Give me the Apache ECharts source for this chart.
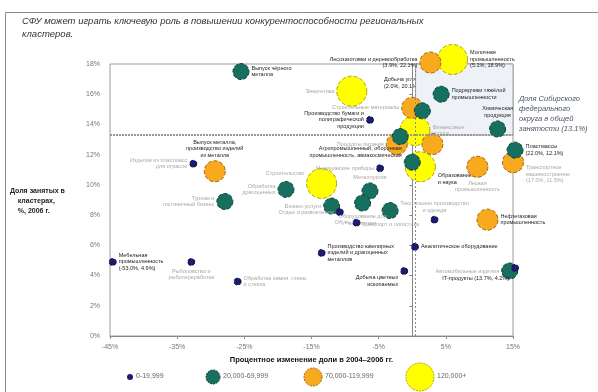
<!DOCTYPE html>
<html>
<head>
<meta charset="utf-8">
<script src="https://cdn.jsdelivr.net/npm/echarts@6/dist/echarts.min.js"></script>
<style>
  html, body { margin: 0; padding: 0; background: #fff; }
  #chart { width: 598px; height: 392px; }
</style>
</head>
<body>
<div id="chart"></div>
<script>
;(function () {

    'use strict';

    // x = % change of share 2004-2006, y = share of employment 2006
    var xTicks = [-45, -35, -25, -15, -5, 5, 15];
    var sfoShare = 13.3;     // horizontal reference (13.1% label)
    var zeroChange = 0.5;    // vertical reference

    // 120,000+
    var yellowPts = [[-9.0, 16.2], [6.0, 18.3], [0.4, 13.6], [1.2, 11.2], [-13.5, 10.1]];
    var yellowNames = ['Энергетика', 'Молочная\nпромышленность\n(5.1%, 18.9%)', 'Финансовые\nуслуги',
        'Образование\nи наука', 'Строительство'];
    var yellowSide = ['left', 'right', 'right', 'bottomRight', 'topLeft'];
    var yellowTone = [0, 1, 0, 1, 0];

    // 70,000-119,999
    var orangePts = [[2.7, 18.1], [0.0, 15.1], [-2.3, 12.7], [3.0, 12.7], [15.0, 11.5],
        [9.7, 11.2], [11.2, 7.7], [-29.4, 10.9]];
    var orangeNames = ['Лесозаготовки и деревообработка\n(3.9%, 22.1%)', 'Строительные материалы',
        'Продукты питания', '', 'Транспортное\nмашиностроение\n(17.0%, 11.5%)',
        'Лесная\nпромышленность', 'Нефтегазовая\nпромышленность',
        'Выпуск металла,\nпроизводство изделий\nиз металла'];
    var orangeSide = ['left', 'left', 'left', 'right', 'bottomRight', 'bottom', 'right', 'top'];
    var orangeTone = [1, 0, 0, 0, 0, 0, 1, 1];

    // 20,000-69,999
    var tealPts = [[-25.5, 17.5], [4.3, 16.0], [1.5, 14.9], [-1.8, 13.2], [12.7, 13.7],
        [15.3, 12.3], [0.0, 11.5], [-18.8, 9.7], [-27.9, 8.9], [-12.0, 8.6],
        [-6.3, 9.6], [-7.4, 8.8], [-3.3, 8.3], [14.5, 4.3]];
    var tealNames = ['Выпуск чёрного\nметалла', 'Подрядчики тяжёлой\nпромышленности', '', '',
        'Химическая\nпродукция', 'Пластмассы\n(22.0%, 12.1%)',
        'Агропромышленный, оборонная\nпромышленность, авиакосмическая',
        'Обработка\nдрагоценных', 'Туризм и\nгостиничный бизнес', 'Бизнес-услуги',
        'Металлургия', 'Оборудование для\nэнергетики', 'Транспорт и логистика',
        'Автомобильные изделия'];
    var tealSide = ['right', 'right', 'right', 'left', 'top', 'right', 'topLeft', 'left', 'left', 'left',
        'top', 'bottom', 'bottom', 'left'];
    var tealTone = [1, 1, 0, 0, 1, 1, 1, 0, 0, 0, 0, 0, 0, 0];

    // 0-19,999
    var navyPts = [[-44.6, 4.9], [-32.9, 4.9], [-26.0, 3.6], [-32.6, 11.4], [-6.3, 14.3],
        [-4.8, 11.1], [-10.8, 8.2], [-8.3, 7.5], [3.3, 7.7], [0.4, 5.9], [-1.2, 4.3],
        [-13.5, 5.5], [15.3, 4.5]];
    var navyNames = ['Мебельная\nпромышленность\n(-53.0%, 4.9%)', 'Рыболовство и\nрыбопереработка',
        'Обработка камня, глины\nи стекла', 'Изделия из пластмасс\nдля отрасли',
        'Производство бумаги и\nполиграфической\nпродукции', 'Медицинские приборы',
        'Отдых и развлечения', 'Обувь', 'Текстильное производство\nи одежда',
        'Аналитическое оборудование', 'Добыча цветных\nископаемых',
        'Производство ювелирных\nизделий и драгоценных\nметаллов', 'IT-продукты (13.7%, 4.2%)'];
    var navySide = ['right', 'bottom', 'right', 'left', 'left', 'left', 'left', 'left', 'top',
        'right', 'bottomLeft', 'right', 'bottomLeft'];
    var navyTone = [1, 0, 0, 0, 1, 0, 0, 0, 0, 1, 1, 1, 1];

    var legendItems = ['0-19,999', '20,000-69,999', '70,000-119,999', '120,000+'];

    var font = 'Liberation Sans, Arial, sans-serif';

    var sideOffset = {
        topLeft: { position: 'left', offset: [0, -10] },
        bottomLeft: { position: 'left', offset: [0, 10] },
        bottomRight: { position: 'right', offset: [0, 12] }
    };

    var buildData = function (pts, names, sides, tones) {
        return pts.map(function (p, i) {
            var s = sideOffset[sides[i]] || { position: sides[i], offset: [0, 0] };
            return {
                value: p,
                name: names[i],
                label: {
                    show: names[i] !== '',
                    position: s.position,
                    offset: s.offset,
                    distance: 2,
                    fontSize: 5.5,
                    lineHeight: 6.5,
                    fontFamily: font,
                    color: tones[i] ? '#222' : '#a8a8a8',
                    formatter: '{b}'
                }
            };
        });
    };

    var bubble = function (data, size, color, border, z) {
        return {
            type: 'scatter',
            data: data,
            symbolSize: size,
            z: z,
            clip: false,
            itemStyle: {
                color: color,
                borderColor: border,
                borderWidth: 1,
                borderType: 'dashed',
                opacity: 1
            },
            emphasis: { disabled: true }
        };
    };

    var myChart = echarts.init(document.getElementById('chart'));

    var option = {
        animation: false,
        grid: {
            left: 110, right: 85, top: 64, bottom: 56,
            show: true, borderColor: '#9a9a9a', borderWidth: 1
        },
        xAxis: {
            type: 'value',
            min: -45, max: 15,
            name: 'Процентное изменение доли в 2004–2006 гг.',
            nameLocation: 'middle',
            nameGap: 18,
            nameTextStyle: { fontSize: 7.5, fontWeight: 'bold', color: '#111', fontFamily: font },
            axisLine: { show: true, lineStyle: { color: '#888' } },
            axisTick: { show: true, customValues: xTicks, length: 3, lineStyle: { color: '#888' } },
            axisLabel: {
                customValues: xTicks, fontSize: 7, color: '#777', fontFamily: font,
                formatter: '{value}%'
            },
            splitLine: { show: false }
        },
        yAxis: {
            type: 'value',
            min: 0, max: 18, interval: 2,
            axisLine: { show: true, lineStyle: { color: '#888' } },
            axisTick: { show: true, length: 3, lineStyle: { color: '#888' } },
            axisLabel: { fontSize: 7, color: '#777', fontFamily: font, formatter: '{value}%', margin: 10 },
            splitLine: { show: false }
        },
        series: [
            {
                type: 'scatter',
                data: [],
                z: 1,
                markArea: {
                    silent: true,
                    itemStyle: { color: '#eef2f7', borderColor: '#a0a0a0', borderWidth: 1 },
                    data: [[{ coord: [zeroChange, sfoShare] }, { coord: [15, 18.15] }]]
                },
                markLine: {
                    silent: true,
                    symbol: 'none',
                    label: { show: false },
                    data: [
                        { xAxis: zeroChange, lineStyle: { type: [2, 2], color: '#8a8a8a', width: 1 } },
                        { yAxis: sfoShare, lineStyle: { type: [2, 1], color: '#9a9a9a', width: 2 } }
                    ]
                }
            },
            bubble(buildData(yellowPts, yellowNames, yellowSide, yellowTone), 30, '#ffff00', '#b0a400', 3),
            bubble(buildData(orangePts, orangeNames, orangeSide, orangeTone), 21, '#f8a91e', '#9c6400', 4),
            bubble(buildData(tealPts, tealNames, tealSide, tealTone), 16, '#17705f', '#0b3f36', 5),
            bubble(buildData(navyPts, navyNames, navySide, navyTone), 7, '#1b1c6e', '#10114a', 6)
        ],
        graphic: [
            {
                type: 'rect', silent: true,
                shape: { x: 5.5, y: 12.5, width: 620, height: 420 },
                style: { fill: 'none', stroke: '#8c8c8c', lineWidth: 1 }
            },
            {
                type: 'text', left: 22, top: 15,
                style: {
                    text: 'СФУ может играть ключевую роль в повышении конкурентоспособности региональных\nкластеров.',
                    font: 'italic 9.5px ' + font, fill: '#333', lineHeight: 13
                }
            },
            {
                type: 'text', left: 10, top: 186,
                style: {
                    text: 'Доля занятых в\n    кластерах,\n    %, 2006 г.',
                    font: 'bold 7px ' + font, fill: '#222', lineHeight: 10
                }
            },
            {
                type: 'text', left: 519, top: 94,
                style: {
                    text: 'Доля Сибирского\nфедерального\nокруга в общей\nзанятости (13.1%)',
                    font: 'italic 7.5px ' + font, fill: '#4a5568', lineHeight: 10
                }
            },
            {
                type: 'text', left: 384, top: 76,
                style: { text: 'Добыча угля\n(2.0%, 20.1%)', font: '5.5px ' + font, fill: '#222', lineHeight: 7 }
            },
            // legend
            { type: 'circle', shape: { cx: 130, cy: 377, r: 3 }, style: { fill: '#1b1c6e' } },
            { type: 'text', left: 136, top: 373, style: { text: legendItems[0], font: '7px ' + font, fill: '#666' } },
            { type: 'circle', shape: { cx: 213, cy: 377, r: 7 }, style: { fill: '#17705f', stroke: '#0b3f36', lineDash: [2, 1] } },
            { type: 'text', left: 223, top: 373, style: { text: legendItems[1], font: '7px ' + font, fill: '#666' } },
            { type: 'circle', shape: { cx: 313, cy: 377, r: 9 }, style: { fill: '#f8a91e', stroke: '#9c6400', lineDash: [2, 1] } },
            { type: 'text', left: 325, top: 373, style: { text: legendItems[2], font: '7px ' + font, fill: '#666' } },
            { type: 'circle', shape: { cx: 420, cy: 377, r: 14 }, style: { fill: '#ffff00', stroke: '#b0a400', lineDash: [2, 1] } },
            { type: 'text', left: 437, top: 373, style: { text: legendItems[3], font: '7px ' + font, fill: '#666' } }
        ]
    };

    myChart.setOption(option);

}());
</script>
</body>
</html>
